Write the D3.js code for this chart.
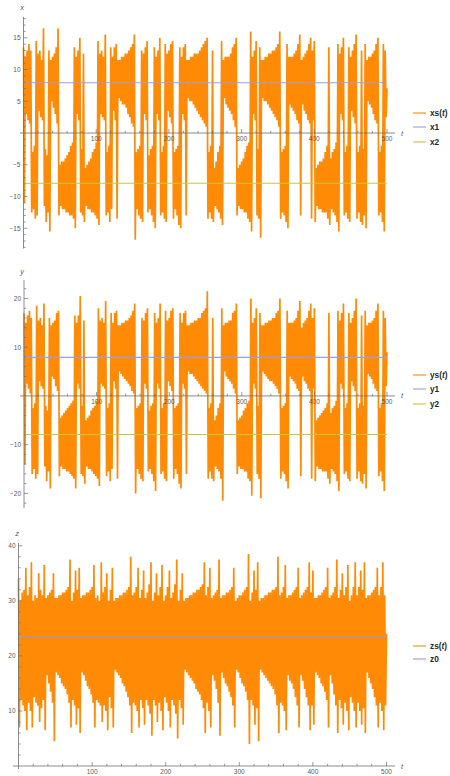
<!DOCTYPE html>
<html><head><meta charset="utf-8">
<script src="https://cdn.jsdelivr.net/npm/d3@7"></script>
<style>body{margin:0;background:#fff}svg{display:block}text{font-family:"Liberation Sans",Arial,sans-serif}</style>
</head><body><svg id="c" width="450" height="776"></svg>
<script>
// ---- data: alternating local max / min of each series, sampled every 1.25 time units (t = 0 .. 500)
const tStep = 1.25;
const xsVals = [
13.5,-11, 12,3, 13,2, 14,1.5, 13,-12.5, -3,-12, -2,-13.5, 14.5,-13, 12.5,3.5, 13,2.5,
11.5,2, 16.5,-11.5, -2.5,-14, -3.5,-12.5, 13,-15.5, 11.5,5, 12,4, 12.5,3, 13.5,1.5, 16.5,-13,
-5,-11.5, -4.5,-12, -4.5,-12, -4,-12.5, -3.5,-12.5, -3,-13, -2,-13, -1.5,-13.5, 13.5,-15, 12,3,
13,2, 15,-12.5, -2.5,-13, 12.5,-14, -5.5,-11.5, -5,-12, -4.5,-12, -4,-12.5, -3,-12.5, -2.5,-13,
-1.5,-13.5, 14.5,-14.5, 12.5,3, 13,2.5, 12,2, 15.5,-13, -3,-12.5, -2,-14, 13.5,-12, 12,3.5,
13.5,2, 14,-13.5, 11.5,5.5, 11.5,5, 12,4.5, 12,4.5, 12.5,4, 12.5,3, 13,2.5, 13.5,1.5,
14,1, 15.5,-16.8, -3,-12, -2.5,-13, -2,-13.5, 13,-14, 12.5,3, 13.5,2, 14.5,-12.5, -3.5,-12,
-2.5,-13, -2,-14, 13.5,-15, 12,3, 13,2, 15,-13, -3,-12.5, -2,-13.5, 14,-14, 12.5,3.5,
13,2.5, 14,1.5, 14.5,-13.5, -3,-12, -2.5,-13, -2,-14.5, 13.5,-15, 12,3, 13.5,2, 14,-13,
11.5,5.5, 11.5,5, 12,5, 12,4.5, 12.5,4, 12.5,3.5, 12.5,3, 13,2.5, 13.5,2, 14,1.5,
14.5,1, 15,-13.5, -3,-12.5, -2,-13.5, 13,-14, -5.5,-11.5, -4.5,-12, -3,-12.5, -2,-13.5, 14.5,-14.5,
11.5,5.5, 12,4.5, 12,4, 12,3.5, 12.5,3, 13.5,2, 14,1, 15,-13, -5.5,-11.5, -5,-12,
-4.5,-12, -4,-12.5, -3,-12.5, -2,-13.5, -1.5,-14, 16,-15.5, 12,3, 13,2, 14.5,-13, -2.5,-13.5,
13.5,-16.5, 11.5,5.5, 11.5,5, 12,5, 12,4.5, 12.5,4, 12.5,3.5, 13,3, 13,2.5, 13.5,2,
14,1, 16,-13.5, -3,-12.5, -2.5,-13, -2,-14, 14,-15, 12,4.5, 12,4, 12,3.5, 12.5,3,
13,2, 14,1.5, 15.5,-13, 11.5,4.5, 12,3.5, 12.5,3, 13,2, 14,1.5, 15,-13.5, 13,2,
14.5,-14, -5.5,-11.5, -5,-12, -4.5,-12, -4.5,-12.5, -4,-12.5, -3,-12.5, -2,-13.5, 13.5,-14.5, -4,-12,
-3,-12.5, -2.5,-13, -1.5,-14, 14,-15.5, 12.5,3, 13.5,2, 15,-13, -3,-12.5, -2,-13.5, 13.5,-14,
12,3.5, 13,2.5, 14,1.5, 15.5,-13.5, -3,-12.5, -2,-14, 13,-14.5, -2.5,-13, 14,-15, 11.5,5,
12,4.5, 12,4, 12.5,3, 13,2, 14,1.5, 15,-13, -3,-12.5, -2,-14, 14,-15.5, 13,2.5,
7];
const ysVals = [
17,-14, 15,2.5, 16.5,1.5, 17.5,0.5, 16,-16, -2.5,-15, -1.5,-17, 18.5,-16, 15.5,3, 16,2,
14.5,1.5, 19,-14.5, -2,-17.5, -3,-15.5, 16,-19, 14.5,4, 15,3.5, 15.5,2, 17,1, 17.5,-16.5,
-4.5,-14.5, -4,-15, -3.5,-15, -3,-15.5, -2.5,-15.5, -2,-16, -1.5,-16.5, -1,-17, 16.5,-19, 15,2.5,
16.5,1.5, 20.5,-16, -2,-16.5, 15.5,-18, -5,-14.5, -4.5,-15, -4,-15, -3,-15.5, -2.5,-16, -2,-16.5,
-1,-17, 18,-18.5, 15.5,2.5, 16,2, 15,1.5, 19.5,-16.5, -2.5,-15.5, -1.5,-17.5, 17,-15, 15,3,
17,1.5, 17.5,-17, 14.5,5, 14.5,4.5, 15,4, 15,3.5, 15.5,3, 15.5,2.5, 16,2, 16.5,1,
17.5,0.5, 19,-20, -2.5,-15, -2,-16, -1.5,-17, 16,-17.5, 15.5,2.5, 17,1.5, 18,-15.5, -3,-15,
-2,-16, -1.5,-17.5, 17,-19.5, 15,2.5, 16,1.5, 19,-16, -2.5,-15.5, -1.5,-17, 17.5,-17.5, 15.5,3,
16,2, 17.5,1, 18,-17, -2.5,-15, -2,-16, -1.5,-18, 17,-19, 15,2.5, 17,1.5, 17.5,-16,
14.5,5, 14.5,4.5, 15,4.5, 15,4, 15.5,3.5, 15.5,3, 16,2.5, 16,2, 17,1.5, 17.5,1,
18,0.5, 21.5,-17, -2.5,-15.5, -1.5,-17, 16,-17.5, -5,-14.5, -4,-15, -2.5,-15.5, -1.5,-17, 18,-21.5,
14.5,5, 15,4, 15,3.5, 15.5,3, 15.5,2.5, 17,1.5, 17.5,0.5, 19,-16, -5,-14.5, -4.5,-15,
-4,-15, -3,-15.5, -2.5,-15.5, -1.5,-17, -1,-17.5, 20,-20.5, 15,2.5, 16,1.5, 18,-16, -2,-17,
17,-21, 14.5,5, 14.5,4.5, 15,4, 15,3.5, 15.5,3, 15.5,3, 16,2.5, 16,2, 17,1.5,
17.5,0.5, 20,-17, -2.5,-15.5, -2,-16, -1.5,-17.5, 17.5,-19, 15,4, 15,3.5, 15,3, 15.5,2.5,
16,1.5, 17.5,1, 19.5,-16.5, 14,4, 15,3, 15.5,2.5, 16,1.5, 17.5,1, 19,-17, 16,1.5,
18,-17.5, -5,-14.5, -4.5,-15, -4,-15, -3.5,-15.5, -3,-15.5, -2.5,-15.5, -1.5,-17, 17,-18, -3.5,-15,
-2.5,-15.5, -2,-16, -1,-17.5, 17.5,-19.5, 15.5,2.5, 17,1.5, 19,-16, -2.5,-15.5, -1.5,-17, 17,-17.5,
15,3, 16,2, 17.5,1, 20,-17, -2.5,-15.5, -1.5,-17.5, 16.5,-18, -2,-16, 17.5,-19, 14.5,4.5,
15,4, 15,3.5, 15.5,2.5, 16,1.5, 17.5,1, 19,-16.5, -2.5,-15.5, -1.5,-17.5, 17.5,-19.5, 16,2,
9];
const zsVals = [
34,7, 30,12, 31.5,11, 32,10, 36,6.5, 31,11.5, 32.5,10, 37,7, 30,12.5, 31,11.5,
30.5,11, 35,8, 32,10.5, 31,12, 36.5,6.5, 30.5,16.5, 31,15, 31.5,13.5, 32,11.5, 35,4.5,
30.5,17, 30.5,16.5, 31,16, 31,15, 31.5,14.5, 31.5,14, 32,13, 32.5,11.5, 37.5,7, 30,12,
31.5,11, 35.5,7.5, 32,10.5, 36,6, 30.5,17, 31,16.5, 31,15.5, 31.5,14.5, 31.5,14, 32,13,
32.5,11.5, 36.5,7, 30.5,12, 31,11.5, 30,11, 37,8, 31.5,11, 32.5,10, 35,6.5, 30,12.5,
32,10.5, 36,7, 30,17.5, 30.5,17, 30.5,16.5, 31,16, 31,15, 31.5,14.5, 31.5,13.5, 32,12.5,
32.5,11, 38,6, 31,11.5, 31.5,11, 32.5,10, 36,7, 30.5,12, 32,10.5, 35.5,7.5, 30.5,12,
31.5,11, 33,9.5, 37,5.5, 30,12, 31.5,11, 35,8, 31,11.5, 32.5,10, 36.5,6.5, 30,12.5,
31,11.5, 32.5,10, 35.5,7, 30.5,12, 31.5,11, 33,9.5, 37.5,5, 30,12, 32,10.5, 35,7.5,
30,17.5, 30.5,17, 30.5,16.5, 31,16, 31,15.5, 31.5,15, 31.5,14, 32,13.5, 32,13, 32.5,12,
33,10.5, 37,6, 31,11.5, 32.5,10, 36,7, 30.5,16.5, 31,15.5, 31.5,14, 32,11.5, 37.5,5.5,
30.5,17, 31,16, 31,15, 31.5,14.5, 31.5,13.5, 32,12.5, 32.5,11, 36,7, 30,17.5, 30.5,17,
31,16, 31,15, 31.5,14.5, 32,13.5, 32.5,12, 38.5,4, 30,12, 31.5,11, 35.5,7.5, 32,10.5,
37,4.5, 30,17.5, 30.5,17, 30.5,16.5, 31,16, 31,15.5, 31.5,15, 31.5,14.5, 32,14, 32,13,
32.5,11, 38,6, 31,11.5, 31.5,11, 32.5,10, 36.5,6.5, 30.5,16.5, 31,15.5, 31,15, 31.5,14,
32,12.5, 32.5,11, 36,7, 30.5,16.5, 31,15.5, 31.5,14, 32,12.5, 32.5,11, 37,6.5, 31.5,11,
35.5,7.5, 30.5,17, 30.5,16.5, 31,16, 31,15, 31.5,14.5, 32,13.5, 32.5,12, 36,7, 30.5,16.5,
31,15, 31.5,13, 32.5,11, 37.5,6, 30.5,12, 32,10.5, 35,7.5, 31,11.5, 32.5,10, 36.5,6.5,
30,12.5, 31,11.5, 32.5,10, 37,7, 31,11.5, 32.5,10, 35.5,7.5, 32,10.5, 37,6, 30.5,17,
31,16, 31,15, 31.5,14, 32,12.5, 32.5,11, 36,7, 31,11.5, 32.5,10, 37,6.5, 31,11,
24];

// reference levels (fixed points)
const xRefs = [7.92, -7.92];   // x1, x2
const yRefs = [7.92, -7.92];   // y1, y2
const zRefs = [23.5];          // z0

// tick labels
const tTicks = [100, 200, 300, 400, 500];
const xTicks = [-15, -10, -5, 5, 10, 15];
const yTicks = [-20, -10, 10, 20];
const zTicks = [10, 20, 30, 40];

const legendX = ["xs", "x1", "x2"];
const legendY = ["ys", "y1", "y2"];
const legendZ = ["zs", "z0"];

// ---- drawing
const svg = d3.select("#c");
const ORANGE = "#ff8a05", LAV = "#9c9ce6", OLIVE = "#c2ca3a", ZREF = "#a898b6";
const AX = "#6e6e6e", LBL = "#5a5a5a";
const fmt = v => (v < 0 ? "\u2212" + Math.abs(v) : String(v));

const panels = [
  { vals: xsVals, refs: xRefs, refColors: [LAV, OLIVE], name: "x", ticks: xTicks, minor: 1,
    dom: [-18.2, 18.3], yr: [248.6, 16.8], tr: [23.5, 387], axL: 20, axR: 395,
    legend: legendX, legColors: [ORANGE, LAV, OLIVE], legY: [113, 127, 142], nameXY: [22, 10] },
  { vals: ysVals, refs: yRefs, refColors: [LAV, OLIVE], name: "y", ticks: yTicks, minor: 2,
    dom: [-23, 23.8], yr: [508, 280], tr: [24, 387], axL: 20, axR: 395,
    legend: legendY, legColors: [ORANGE, LAV, OLIVE], legY: [375, 389, 404], nameXY: [22, 274] },
  { vals: zsVals, refs: zRefs, refColors: [ZREF], name: "z", ticks: zTicks, minor: 2,
    dom: [0, 40.5], yr: [766, 543], tr: [18.5, 386.5], axL: 13, axR: 395, yAxBottom: 769,
    legend: legendZ, legColors: [ORANGE, ZREF], legY: [646, 659], nameXY: [17, 536] }
];

panels.forEach(p => {
  const tS = d3.scaleLinear().domain([0, 500]).range(p.tr);
  const vS = d3.scaleLinear().domain(p.dom).range(p.yr);
  const g = svg.append("g");
  const idx = d3.range(p.vals.length);

  // series
  g.append("path")
    .attr("d", d3.line().x(i => tS(i * tStep)).y(i => vS(p.vals[i]))(idx))
    .attr("fill", "none").attr("stroke", ORANGE).attr("stroke-width", 1.7)
    .attr("stroke-linejoin", "miter").attr("stroke-miterlimit", 1);

  // reference lines
  p.refs.forEach((v, j) => {
    g.append("line").attr("x1", tS(0)).attr("x2", tS(500))
      .attr("y1", vS(v)).attr("y2", vS(v))
      .attr("stroke", p.refColors[j]).attr("stroke-width", 1.1);
  });

  // axes
  const x0 = tS(0), y0 = vS(0);
  const yTop = p.yr[1], yBot = p.yAxBottom || p.yr[0];
  g.append("line").attr("x1", x0).attr("x2", x0).attr("y1", yTop).attr("y2", yBot)
    .attr("stroke", AX).attr("stroke-width", 0.8);
  g.append("line").attr("x1", p.axL).attr("x2", p.axR).attr("y1", y0).attr("y2", y0)
    .attr("stroke", AX).attr("stroke-width", 0.8);

  // t ticks (point up into the plot)
  d3.range(20, 501, 20).forEach(t => {
    const major = t % 100 === 0;
    g.append("line").attr("x1", tS(t)).attr("x2", tS(t))
      .attr("y1", y0).attr("y2", y0 - (major ? 4 : 2.2))
      .attr("stroke", AX).attr("stroke-width", 0.7);
  });
  tTicks.forEach(t => {
    g.append("text").attr("x", tS(t)).attr("y", y0 + 8.3)
      .attr("text-anchor", "middle").attr("font-size", 6.5).attr("fill", LBL).text(t);
  });

  // value ticks (point right)
  const lo = Math.ceil(p.dom[0] / p.minor) * p.minor;
  d3.range(lo, p.dom[1] + 0.001, p.minor).forEach(v => {
    if (Math.abs(v) < 1e-9) return;
    const major = p.ticks.includes(Math.round(v * 100) / 100);
    g.append("line").attr("x1", x0).attr("x2", x0 + (major ? 4 : 2.2))
      .attr("y1", vS(v)).attr("y2", vS(v))
      .attr("stroke", AX).attr("stroke-width", 0.7);
  });
  p.ticks.forEach(v => {
    g.append("text").attr("x", x0 - 3).attr("y", vS(v)).attr("dy", "0.35em")
      .attr("text-anchor", "end").attr("font-size", 6.5).attr("fill", LBL).text(fmt(v));
  });

  // axis names
  g.append("text").attr("x", p.nameXY[0]).attr("y", p.nameXY[1])
    .attr("text-anchor", "middle").attr("font-size", 7.5).attr("font-style", "italic")
    .attr("fill", LBL).text(p.name);
  g.append("text").attr("x", 402).attr("y", y0 + 2.5)
    .attr("text-anchor", "middle").attr("font-size", 7.5).attr("font-style", "italic")
    .attr("fill", LBL).text("t");

  // legend
  p.legend.forEach((name, j) => {
    const ly = p.legY[j];
    g.append("line").attr("x1", 413).attr("x2", 426).attr("y1", ly).attr("y2", ly)
      .attr("stroke", p.legColors[j]).attr("stroke-width", 1.1);
    const tx = g.append("text").attr("x", 430).attr("y", ly + 3)
      .attr("font-size", 8.3).attr("font-weight", "bold").attr("fill", "#2a2a2a");
    if (j === 0) {
      tx.append("tspan").text(name + "(");
      tx.append("tspan").attr("font-style", "italic").text("t");
      tx.append("tspan").text(")");
    } else {
      tx.text(name);
    }
  });
});
</script>
</body></html>
